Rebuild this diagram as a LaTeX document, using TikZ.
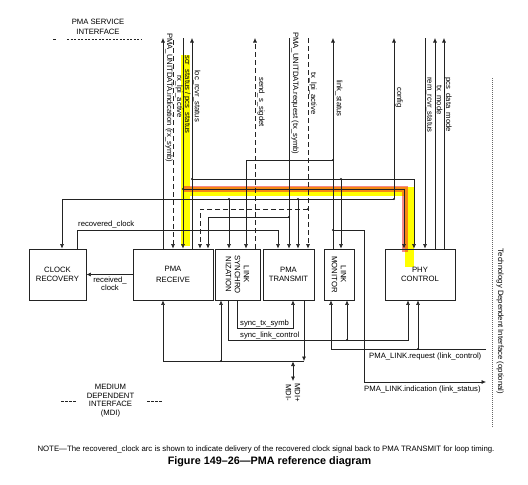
\documentclass[tikz,border=0pt]{standalone}
\usepackage{fontspec}
\setmainfont{Liberation Sans}
\usetikzlibrary{arrows.meta}
\definecolor{hly}{RGB}{255,255,0}
\definecolor{hlr}{RGB}{238,40,40}
\definecolor{ink}{RGB}{35,35,35}
\begin{document}
\begin{tikzpicture}[x=1pt,y=-1pt,
  font=\fontsize{7.7}{9}\selectfont,
  box/.style={draw=ink, line width=0.8pt, inner sep=0pt, align=center, minimum height=51pt},
  ln/.style={draw=ink, line width=0.6pt},
  arr/.style={ln, -{Latex[length=4.5pt,width=4pt]}},
  dsh/.style={dash pattern=on 5pt off 3pt},
  jd/.style={circle, fill=ink, inner sep=0pt, minimum size=2.3pt},
  vl/.style={inner sep=0pt, rotate=-90, anchor=west},
  yhl/.style={draw=hly, line width=9pt, line join=miter},
  rhl/.style={draw=hlr, opacity=0.55, line width=6pt, line join=miter}]
\useasboundingbox (0,0) rectangle (528,485);

% highlights
\draw[yhl] (185,55) -- (185,246);
\draw[yhl] (181,191) -- (409,191) -- (409,267);
\draw[rhl] (183,189) -- (404.5,189) -- (404.5,252);

% boxes
\node[box, minimum width=57pt] (cr) at (57.5,274.5) {CLOCK\\RECOVERY};
\node[box, minimum width=80pt] (pr) at (173,274.5) {PMA\\[2pt]RECEIVE};
\node[box, minimum width=45pt] (ls) at (237.5,274.5) {};
\node[rotate=-90, align=center, inner sep=0pt] (lstext) at (ls.center) {LINK\\SYNCHRO\\NIZATION};
\node[box, minimum width=51pt] (pt) at (288.5,274.5) {PMA\\TRANSMIT};
\node[box, minimum width=30pt] (lm) at (339,274.5) {};
\node[rotate=-90, align=center, inner sep=0pt] (lmtext) at (lm.center) {LINK\\MONITOR};
\node[box, minimum width=70pt] (pc) at (420,274.5) {PHY\\CONTROL};

% top coordinates
\coordinate (tInd) at (163,38);
\coordinate (tRxLpi) at (173,40);
\coordinate (tScr) at (183,38);
\coordinate (tLoc) at (192,38);
\coordinate (tSend) at (255,38);
\coordinate (tReq) at (289,38);
\coordinate (tTxLpi) at (308,38);
\coordinate (tLink) at (333,38);
\coordinate (tCfg) at (394,38);
\coordinate (tRem) at (425,38);
\coordinate (tMode) at (435,38);
\coordinate (tPcs) at (444,38);

% PMA_UNITDATA.indication
\draw[arr] (tInd |- pr.north) -- (tInd);
% rx_lpi_active
\draw[arr,dsh] (tRxLpi) -- (tRxLpi |- pr.north);
% scr_status
\draw[arr] (tScr) -- (tScr |- pr.north);
\coordinate (jScr) at (183,189); \coordinate (cScr) at (404,189);
\draw[arr] (jScr) -- (cScr) -- (cScr |- pc.north);
\node[jd] (dScr) at (jScr) {};
% loc_rcvr_status
\draw[arr] (tLoc |- pr.north) -- (tLoc);
\coordinate (jLoc) at (192,179); \coordinate (cLoc) at (414,179); \coordinate (jLocLm) at (341,179);
\draw[arr] (jLoc) -- (cLoc) -- (cLoc |- pc.north);
\draw[arr] (jLocLm) -- (jLocLm |- lm.north);
\node[jd] (dLoc) at (jLoc) {}; \node[jd] (dLocLm) at (jLocLm) {};
% send_s_sigdet
\draw[arr,dsh] (tSend |- ls.north) -- (tSend);
% PMA_UNITDATA.request
\draw[arr] (tReq) -- (tReq |- pt.north);
\coordinate (jReq) at (289,217); \coordinate (cReq) at (208,217);
\draw[arr] (jReq) -- (cReq) -- (cReq |- pr.north);
\node[jd] (dReq) at (jReq) {};
% tx_lpi_active
\draw[arr,dsh] (tTxLpi) -- (tTxLpi |- pt.north);
\coordinate (jTx) at (308,209); \coordinate (cTx) at (200,209);
\draw[arr,dsh] (jTx) -- (cTx) -- (cTx |- pr.north);
\node[jd] (dTx) at (jTx) {};
% link_status
\draw[arr] (tLink |- lm.north) -- (tLink);
\coordinate (jLk1) at (333,160); \coordinate (cLk1) at (246,160);
\draw[arr] (jLk1) -- (cLk1) -- (cLk1 |- ls.north);
\node[jd] (dLk1) at (jLk1) {};
\coordinate (jLk2) at (333,230); \coordinate (cLk2) at (364,230); \coordinate (eInd) at (486,382);
\draw[arr] (jLk2) -- (cLk2) -- (cLk2 |- eInd) -- (eInd);
\node[jd] (dLk2) at (jLk2) {};
% config
\coordinate (jCfg) at (394,199); \coordinate (cCfg) at (62,199);
\draw[arr] (jCfg) -- (tCfg);
\draw[arr] (jCfg) -- (cCfg) -- (cCfg |- cr.north);
\coordinate (jCfg1) at (229,199); \coordinate (jCfg2) at (298,199);
\draw[arr] (jCfg1) -- (jCfg1 |- ls.north);
\draw[arr] (jCfg2) -- (jCfg2 |- pt.north);
\node[jd] (dCfg) at (jCfg) {}; \node[jd] (dCfg1) at (jCfg1) {}; \node[jd] (dCfg2) at (jCfg2) {};
% rem_rcvr_status, tx_mode, pcs_data_mode
\draw[arr] (tRem) -- (tRem |- pc.north);
\draw[arr] (tMode |- pc.north) -- (tMode);
\draw[arr] (tPcs |- pc.north) -- (tPcs);
% recovered_clock
\coordinate (rc1) at (77,230); \coordinate (rc2) at (278,230);
\draw[arr] (rc1 |- cr.north) -- (rc1) -- (rc2) -- (rc2 |- pt.north);
% received_clock
\draw[arr] (pr.west) -- (cr.east);

% bottom
\coordinate (bus) at (304,361); \coordinate (busL) at (163,361); \coordinate (jBus) at (221,361);
\draw[arr] (bus |- pt.south) -- (bus);
\draw[arr] (bus) -- (busL) -- (busL |- pr.south);
\draw[arr] (jBus) -- (jBus |- ls.south);
\node[jd] (dBus) at (jBus) {};
\coordinate (mdiT) at (293,361.5); \coordinate (mdiB) at (293,381);
\draw[ln, {Latex[length=4.5pt,width=4pt]}-{Latex[length=4.5pt,width=4pt]}] (mdiT) -- (mdiB);
\coordinate (st1) at (237,328); \coordinate (st2) at (293,328);
\draw[arr] (st1 |- ls.south) -- (st1) -- (st2) -- (st2 |- pt.south);
\coordinate (sl1) at (228,340); \coordinate (sl2) at (408,340); \coordinate (jSl) at (347,340);
\draw[arr] (sl1 |- ls.south) -- (sl1) -- (sl2) -- (sl2 |- pc.south);
\draw[arr] (jSl) -- (jSl |- lm.south);
\node[jd] (dSl) at (jSl) {};
\coordinate (rq0) at (486,349); \coordinate (rq1) at (331,349); \coordinate (jRq) at (418,349);
\draw[arr] (rq0) -- (rq1) -- (rq1 |- lm.south);
\draw[arr] (jRq) -- (jRq |- pc.south);
\node[jd] (dRq) at (jRq) {};

% vertical labels
\node[vl] (lInd) at (169,33) {PMA\_UNITDATA.indication (rx\_symb)};
\node[vl] (lRxLpi) at (179,75) {rx\_lpi\_active};
\node[vl] (lScr) at (187,55) {scr\_status / pcs\_status};
\node[vl] (lLoc) at (197,70) {loc\_rcvr\_status};
\node[vl] (lSend) at (261,77) {send\_s\_sigdet};
\node[vl] (lReq) at (295,32) {PMA\_UNITDATA.request (tx\_symb)};
\node[vl] (lTxLpi) at (313,72) {tx\_lpi\_active};
\node[vl] (lLink) at (339,80) {link\_status};
\node[vl] (lCfg) at (399,87) {config};
\node[vl] (lRem) at (429,77) {rem\_rcvr\_status};
\node[vl] (lMode) at (439,85) {tx\_mode};
\node[vl] (lPcs) at (448,77) {pcs\_data\_mode};

% horizontal labels
\node[inner sep=0pt, anchor=base west] (lRc) at (78,226.5) {recovered\_clock};
\node[inner sep=0pt, align=center, font=\fontsize{7.7}{8}\selectfont] (lRcv) at (110,284) {received\_\\clock};
\node[inner sep=0pt, anchor=base west] (lSt) at (240,325.5) {sync\_tx\_symb};
\node[inner sep=0pt, anchor=base west] (lSl) at (240,337.5) {sync\_link\_control};
\node[inner sep=0pt, anchor=base west] (lRq) at (369,358) {PMA\_LINK.request (link\_control)};
\node[inner sep=0pt, anchor=base west] (lLi) at (364,391.5) {PMA\_LINK.indication (link\_status)};
\node[inner sep=0pt, rotate=-90, align=center, anchor=west] (lMdi) at (293,383) {MDI+\\MDI-};

% interfaces
\node[inner sep=0pt, align=center, font=\fontsize{7.7}{9.5}\selectfont] (lPsi) at (98,27) {PMA SERVICE\\INTERFACE};
\draw[ln, line width=0.7pt] (53,39.5) -- (56,39.5);
\draw[ln, line width=0.7pt, dash pattern=on 2pt off 1.5pt] (67,39.5) -- (142,39.5);
\node[inner sep=0pt, align=center, font=\fontsize{7.7}{8.5}\selectfont] (lMdiI) at (110.5,400.5) {MEDIUM\\DEPENDENT\\INTERFACE\\(MDI)};
\draw[ln, line width=0.7pt, dash pattern=on 2.5pt off 1.5pt] (61,401) -- (76,401);
\draw[ln, line width=0.7pt, dash pattern=on 2.5pt off 1.5pt] (147,401) -- (163,401);
\draw[line width=0.6pt, draw=black!60, dash pattern=on 1pt off 1pt] (492,78) -- (492,427);
\node[inner sep=0pt, rotate=-90] (lTdi) at (500,321.5) {Technology Dependent Interface (optional)};

% note and caption
\node[inner sep=0pt, font=\fontsize{7.8}{9}\selectfont] (note) at (266,449) {NOTE\textemdash The recovered\_clock arc is shown to indicate delivery of the recovered clock signal back to PMA TRANSMIT for loop timing.};
\node[inner sep=0pt, font=\bfseries\fontsize{10.8}{12}\selectfont] (cap) at (269.5,461.5) {Figure 149\textendash 26\textemdash PMA reference diagram};
\end{tikzpicture}
\end{document}
